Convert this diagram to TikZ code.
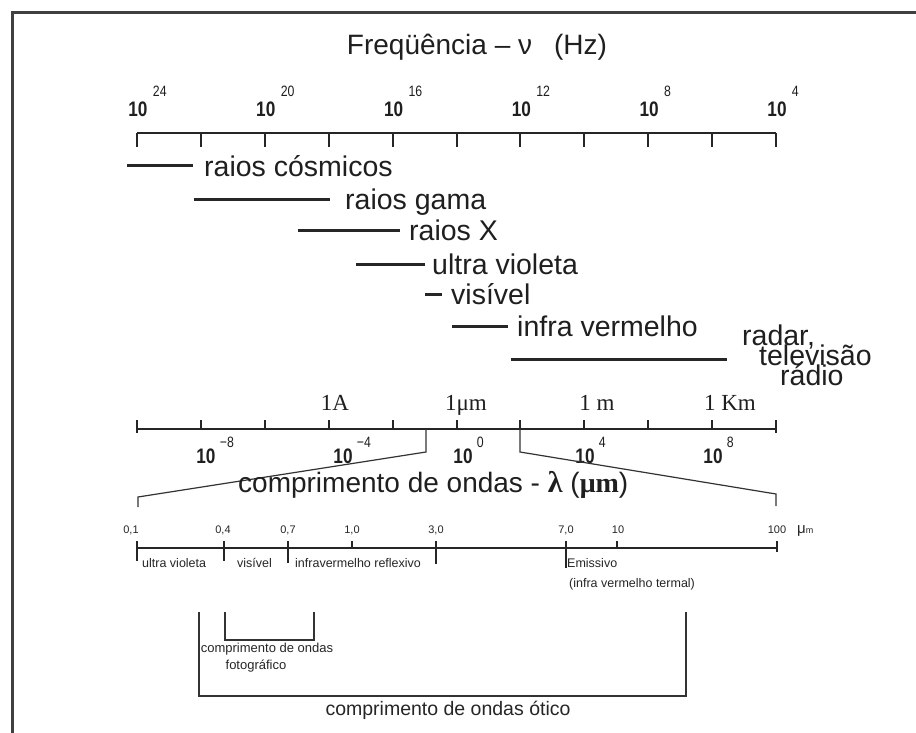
\documentclass[tikz,border=0pt]{standalone}
\usepackage{fontspec}
\setmainfont{Liberation Sans}
\newfontfamily\serifd{Liberation Serif}
\newfontfamily\narrowd[FakeStretch=0.82]{Liberation Sans}
\usetikzlibrary{calc}
\tikzset{
  lab/.style={inner sep=0pt, anchor=base west, text=black!88, font=\fontsize{28.5pt}{28.5pt}\selectfont},
  band/.style={line width=3pt, draw=black!85},
  axisline/.style={line width=2.2pt, draw=black!85},
  tk/.style={line width=2pt, draw=black!85},
  thinline/.style={line width=1.2pt, draw=black!80},
  num/.style={inner sep=0pt, anchor=base, text=black!88, font=\narrowd\bfseries\fontsize{21pt}{21pt}\selectfont},
  expo/.style={inner sep=0pt, anchor=base west, text=black!88, font=\narrowd\fontsize{15pt}{15pt}\selectfont},
  serlab/.style={inner sep=0pt, anchor=base, text=black!88, font=\serifd\fontsize{23pt}{23pt}\selectfont},
  tiny/.style={inner sep=0pt, anchor=base, text=black!85, font=\fontsize{11pt}{11pt}\selectfont},
  small/.style={inner sep=0pt, anchor=base west, text=black!85, font=\fontsize{12.5pt}{12.5pt}\selectfont},
  smallc/.style={inner sep=0pt, anchor=base, text=black!85, font=\fontsize{13pt}{13pt}\selectfont},
}
\begin{document}
\begin{tikzpicture}[x=1pt,y=-1pt]
\useasboundingbox (0,0) rectangle (916,733);
\fill[white] (0,0) rectangle (916,733);
% frame
\draw[line width=3pt, draw=black!75] (12,733) -- (12,13) -- (916,13);

% title
\node[inner sep=0pt, anchor=base, text=black!88, font=\fontsize{28pt}{28pt}\selectfont] (title) at (477,55) {Freqüência – ν\hspace{22pt}(Hz)};

% frequency axis
\draw[axisline] (137,133) -- (776,133);
\foreach \i in {0,...,10} { \draw[tk] ({137+63.9*\i},133) -- ({137+63.9*\i},147); }
\foreach \e/\i in {24/0,20/2,16/4,12/6,8/8,4/10} {
  \node[num] (f\e) at ({138+63.9*\i},117) {10};
  \node[expo] (fe\e) at ($(f\e.base east)+(5,-20)$) {\e};
}

% bands
\draw[band] (127,166) -- (193,166); \node[lab] (cos) at (204,176) {raios cósmicos};
\draw[band] (194,199) -- (330,199); \node[lab] (gam) at (345,209) {raios gama};
\draw[band] (298,230) -- (400,230); \node[lab] (rx) at (409,240) {raios X};
\draw[band] (356,264) -- (425,264); \node[lab] (uv) at (432,274) {ultra violeta};
\draw[band] (425,294) -- (442,294); \node[lab] (vis) at (451,304) {visível};
\draw[band] (452,326) -- (508,326); \node[lab] (ir) at (517,336) {infra vermelho};
\draw[band] (511,359) -- (727,359);
\node[lab] (rad1) at (742,345) {radar,};
\node[lab] (rad2) at (759,365) {televisão};
\node[lab] (rad3) at (780,385) {rádio};

% wavelength axis
\node[serlab] (w1) at (335,410) {1A};
\node[serlab] (w2) at (466,410) {1μm};
\node[serlab] (w3) at (597,410) {1 m};
\node[serlab] (w4) at (730,410) {1 Km};
\draw[axisline] (137,429) -- (776,429);
\foreach \i in {0,...,10} { \draw[tk] ({137+63.9*\i},420) -- ({137+63.9*\i},429); }
\draw[tk] (137,429) -- (137,433); \draw[tk] (776,429) -- (776,433);
\foreach \e/\x/\n in {−8/206/a,−4/343/b,0/463/c,4/585/d,8/713/e} {
  \node[num] (l\n) at (\x,463) {10};
  \node[expo] (le\n) at ($(l\n.base east)+(4,-16)$) {\e};
}

% zoom lines
\coordinate (zl0) at (426,429); \coordinate (zl1) at (426,452);
\coordinate (zl2) at (138,497); \coordinate (zl3) at (138,507);
\coordinate (zr0) at (520,429); \coordinate (zr1) at (520,452);
\coordinate (zr2) at (776,494); \coordinate (zr3) at (776,506);
\draw[thinline] (zl0) -- (zl1) -- (zl2) -- (zl3);
\draw[thinline] (zr0) -- (zr1) -- (zr2) -- (zr3);
\node[lab, font=\fontsize{28pt}{28pt}\selectfont] (wl) at (238,492) {comprimento de ondas - {\serifd\bfseries\fontsize{30pt}{30pt}\selectfont λ} ({\serifd\bfseries μm})};

% detail axis
\draw[axisline] (137,548) -- (777,548);
\foreach \x/\b in {137/561,224/561,288/563,352/548,436/564,566/568,617/548,777/552} {
  \draw[tk, line width=1.6pt] (\x,541) -- (\x,\b);
}
\foreach \t/\x/\n in {{0,1}/131/a,{0,4}/223/b,{0,7}/288/c,{1,0}/352/d,{3,0}/436/e,{7,0}/566/f,10/618/g,100/777/h} {
  \node[tiny] (d\n) at (\x,533) {\t};
}
\node[inner sep=0pt, anchor=base west, text=black!85, font=\fontsize{15pt}{15pt}\selectfont] (mu) at (797,533) {μ\fontsize{9pt}{9pt}\selectfont m};
\node[small] (r1) at (142,567) {ultra violeta};
\node[small] (r2) at (237,567) {visível};
\node[small] (r3) at (295,567) {infravermelho reflexivo};
\node[small] (r4) at (567,567) {Emissivo};
\node[small] (r5) at (569,587) {(infra vermelho termal)};

% brackets
\draw[thinline] (225,612) -- (225,640) -- (314,640) -- (314,612);
\draw[thinline] (199,612) -- (199,696) -- (686,696) -- (686,612);
\node[smallc] (fo1) at (267,652) {comprimento de ondas};
\node[smallc] (fo2) at (256,669) {fotográfico};
\node[inner sep=0pt, anchor=base, text=black!85, font=\fontsize{19.5pt}{19.5pt}\selectfont] (ot) at (448,715) {comprimento de ondas ótico};
\end{tikzpicture}
\end{document}
